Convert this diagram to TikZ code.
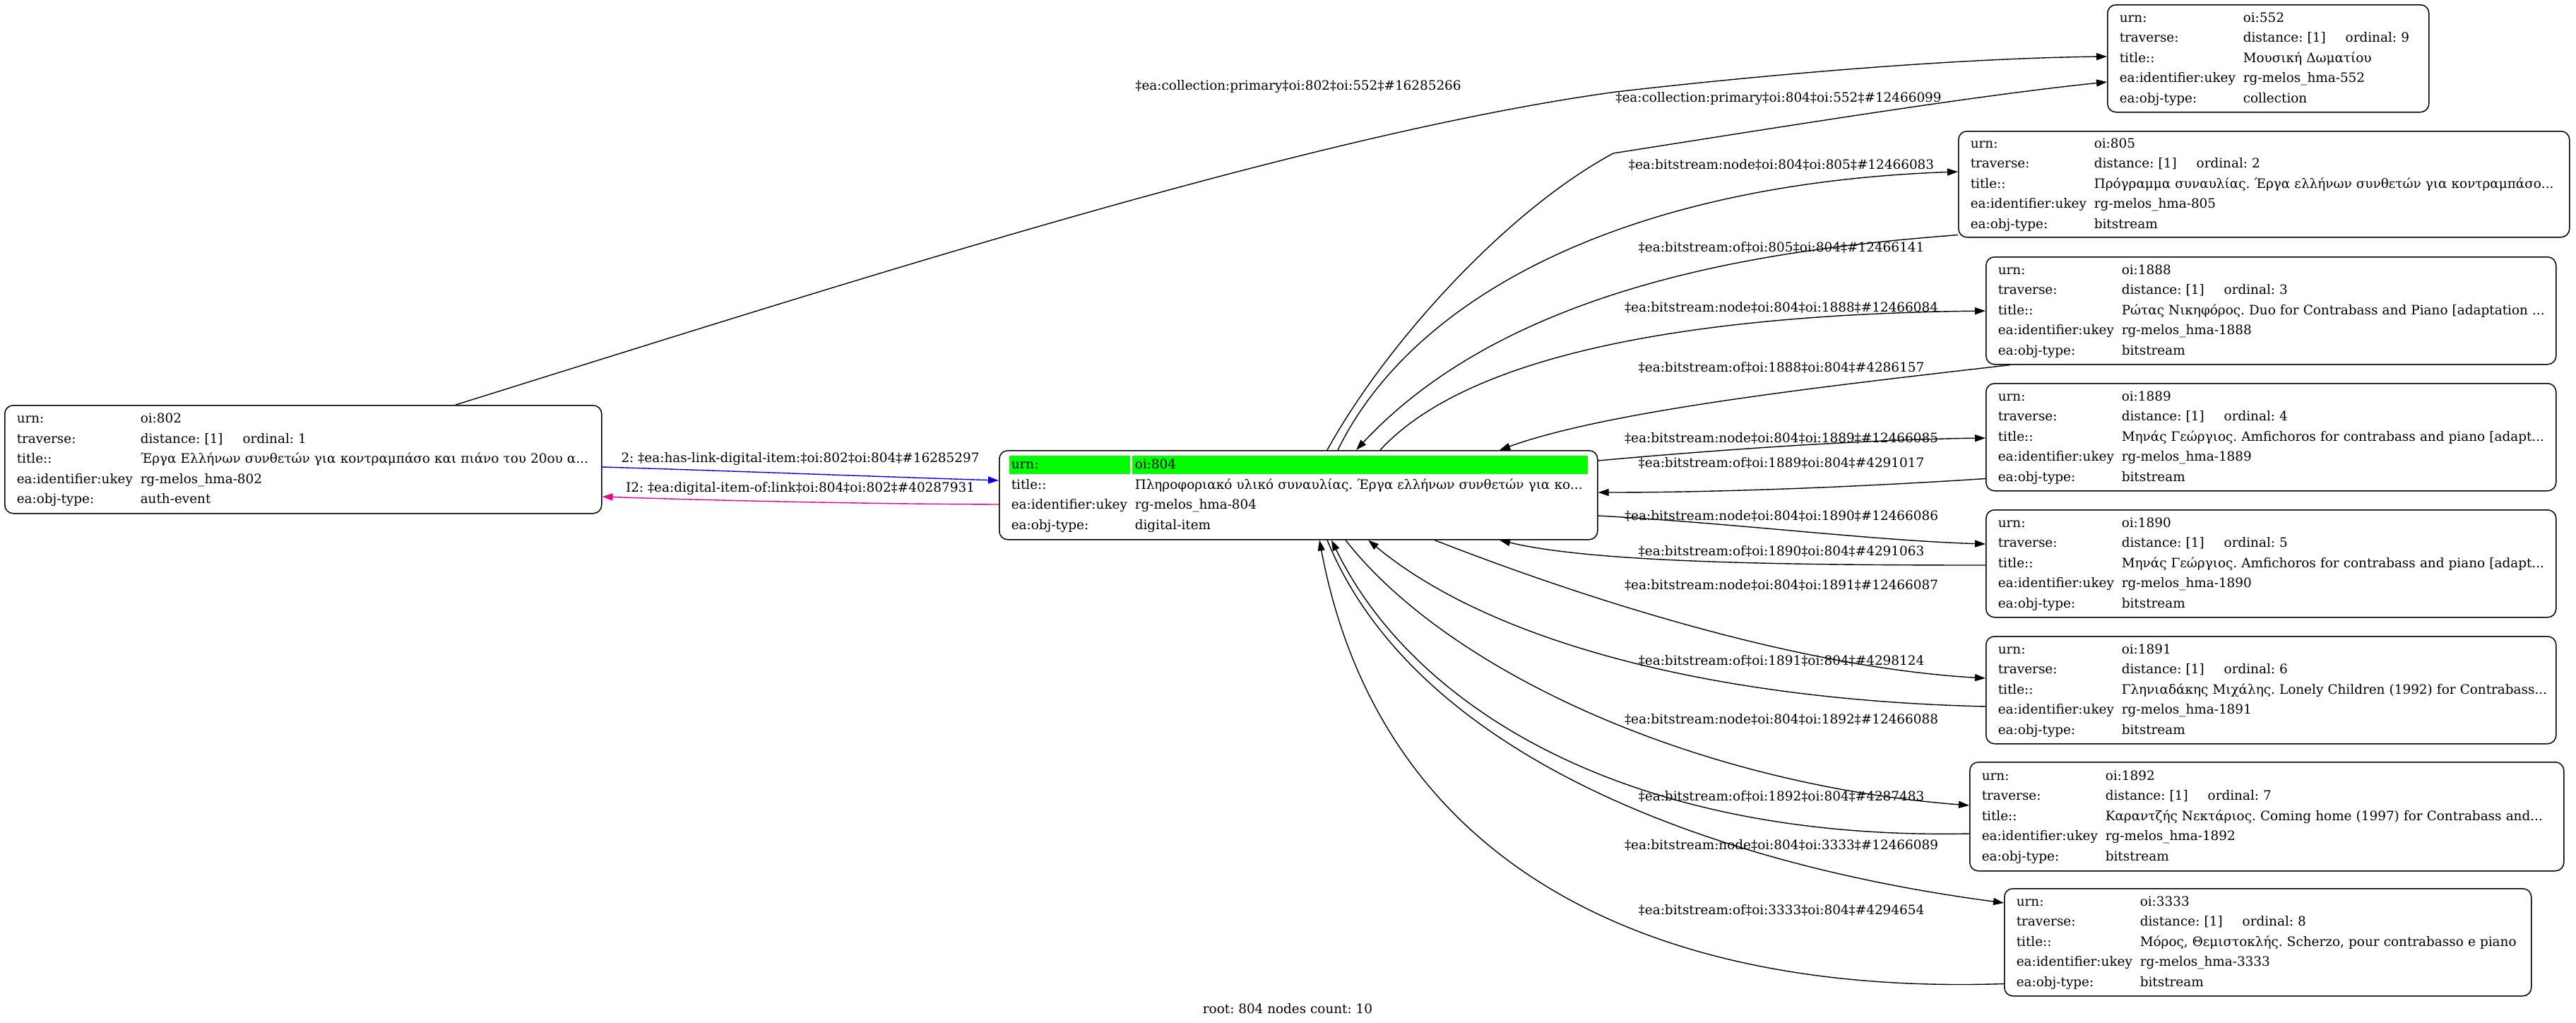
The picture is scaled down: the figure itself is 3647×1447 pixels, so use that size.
\documentclass[tikz,border=0pt]{standalone}
\usepackage{fontspec}
\setmainfont{DejaVu Serif}
\usetikzlibrary{arrows.meta,calc}
\tikzset{
 rec/.style={draw=black, line width=0.75pt, rounded corners=6pt, anchor=north west, inner xsep=8.5pt, inner ysep=0pt, align=left, font=\fontsize{9.2}{14.25}\selectfont\frenchspacing},
 elabel/.style={font=\fontsize{9.2}{11}\selectfont\frenchspacing, inner sep=0pt},
 conn/.style={line width=0.7pt, -{Triangle[length=7.5pt,width=5pt]}},
}
\newcommand\recbody[5]{\begin{tabular}{@{}p{87.5pt}@{}l@{}}urn: & #1\\ traverse: & distance: [1]\hspace{14pt}ordinal: #2\\ title:: & #3\\ ea:identifier:ukey & #4\\ ea:obj-type: & #5\end{tabular}}
\begin{document}
\begin{tikzpicture}[x=0.5pt,y=-0.5pt]
\useasboundingbox (0,0) rectangle (3647,1447);
% green header of root node
\fill[green] (1429,645) rectangle (1599.5,671);
\fill[green] (1602.5,645) rectangle (2248,671);
% nodes
\node[rec, text width=210.5pt, minimum height=76pt] (n552) at (2983,6) {\recbody{oi:552}{9}{Μουσική Δωματίου}{rg-melos\_hma-552}{collection}};
\node[rec, text width=415.5pt, minimum height=75pt] (n805) at (2772,185) {\recbody{oi:805}{2}{Πρόγραμμα συναυλίας. Έργα ελλήνων συνθετών για κοντραμπάσο...}{rg-melos\_hma-805}{bitstream}};
\node[rec, text width=386.5pt, minimum height=76pt] (n1888) at (2811,363) {\recbody{oi:1888}{3}{Ρώτας Νικηφόρος. Duo for Contrabass and Piano [adaptation ...}{rg-melos\_hma-1888}{bitstream}};
\node[rec, text width=386.5pt, minimum height=76pt] (n1889) at (2811,542) {\recbody{oi:1889}{4}{Μηνάς Γεώργιος. Amfichoros for contrabass and piano [adapt...}{rg-melos\_hma-1889}{bitstream}};
\node[rec, text width=386.5pt, minimum height=76pt] (n1890) at (2811,721) {\recbody{oi:1890}{5}{Μηνάς Γεώργιος. Amfichoros for contrabass and piano [adapt...}{rg-melos\_hma-1890}{bitstream}};
\node[rec, text width=386.5pt, minimum height=76pt] (n1891) at (2811,900) {\recbody{oi:1891}{6}{Γληνιαδάκης Μιχάλης. Lonely Children (1992) for Contrabass...}{rg-melos\_hma-1891}{bitstream}};
\node[rec, text width=403.5pt, minimum height=77pt] (n1892) at (2788,1078) {\recbody{oi:1892}{7}{Καραντζής Νεκτάριος. Coming home (1997) for Contrabass and...}{rg-melos\_hma-1892}{bitstream}};
\node[rec, text width=356pt, minimum height=76pt] (n3333) at (2837,1257) {\recbody{oi:3333}{8}{Μόρος, Θεμιστοκλής. Scherzo, pour contrabasso e piano}{rg-melos\_hma-3333}{bitstream}};
\node[rec, text width=405.5pt, minimum height=76.5pt] (n802) at (6,573) {\recbody{oi:802}{1}{Έργα Ελλήνων συνθετών για κοντραμπάσο και πιάνο του 20ου α...}{rg-melos\_hma-802}{auth-event}};
\node[rec, text width=406.5pt, minimum height=63pt] (n804) at (1414,637) {\begin{tabular}{@{}p{87.5pt}@{}l@{}}urn: & oi:804\\ title:: & Πληροφοριακό υλικό συναυλίας. Έργα ελλήνων συνθετών για κο...\\ ea:identifier:ukey & rg-melos\_hma-804\\ ea:obj-type: & digital-item\end{tabular}};
% connectors
\draw[conn] ($(n802.north west)+(639,0)$) .. controls (1200,400) and (1850,190) .. (2288,130) .. controls (2550,100) and (2800,82) .. ($(n552.north west)+(0,74)$);
\draw[conn] ($(n804.north west)+(465,0)$) .. controls (1960,490) and (2130,300) .. (2284,217) .. controls (2550,175) and (2800,135) .. ($(n552.north west)+(0,110)$);
\draw[conn] ($(n804.north west)+(480,0)$) .. controls (2000,420) and (2300,260) .. ($(n805.north west)+(0,58)$);
\draw[conn] ($(n805.south west)+(0,-4)$) .. controls (2550,350) and (2150,390) .. ($(n804.north west)+(506,0)$);
\draw[conn] ($(n804.north west)+(540,0)$) .. controls (2080,500) and (2400,445) .. ($(n1888.north west)+(0,77)$);
\draw[conn] ($(n1888.south west)+(35,0)$) .. controls (2600,545) and (2280,580) .. ($(n804.north west)+(709,0)$);
\draw[conn] ($(n804.north east)+(0,15)$) .. controls (2450,635) and (2650,622) .. ($(n1889.north west)+(0,78)$);
\draw[conn] ($(n1889.south west)+(0,-18)$) .. controls (2650,688) and (2450,697) .. ($(n804.north east)+(0,60)$);
\draw[conn] ($(n804.north east)+(0,93)$) .. controls (2450,740) and (2650,765) .. ($(n1890.north west)+(0,49)$);
\draw[conn] ($(n1890.north west)+(0,79)$) .. controls (2500,800) and (2250,795) .. ($(n804.south west)+(709,0)$);
\draw[conn] ($(n804.south west)+(617,0)$) .. controls (2250,850) and (2550,945) .. ($(n1891.north west)+(0,60)$);
\draw[conn] ($(n1891.north west)+(0,100)$) .. controls (2400,990) and (2100,900) .. ($(n804.south west)+(523,0)$);
\draw[conn] ($(n804.south west)+(491,0)$) .. controls (2050,950) and (2400,1110) .. ($(n1892.north west)+(0,62)$);
\draw[conn] ($(n1892.north west)+(0,102)$) .. controls (2300,1190) and (2000,1000) .. ($(n804.south west)+(471,0)$);
\draw[conn] ($(n804.south west)+(465,0)$) .. controls (2000,1060) and (2400,1220) .. ($(n3333.north west)+(0,21)$);
\draw[conn] ($(n3333.south west)+(0,-18)$) .. controls (2300,1410) and (1950,1200) .. ($(n804.south west)+(454,0)$);
\draw[conn, blue] ($(n802.north east)+(0,88)$) .. controls (1050,667) and (1250,675) .. ($(n804.north west)+(0,43)$);
\draw[conn, magenta] ($(n804.north west)+(0,77)$) .. controls (1200,713) and (1000,708) .. ($(n802.north east)+(0,130)$);
% labels
\node[elabel] (l1) at (1838,123) {‡ea:collection:primary‡oi:802‡oi:552‡\#16285266};
\node[elabel] (l2) at (2518,140) {‡ea:collection:primary‡oi:804‡oi:552‡\#12466099};
\node[elabel] (l3) at (2522,233) {‡ea:bitstream:node‡oi:804‡oi:805‡\#12466083};
\node[elabel] (l4) at (2522,350) {‡ea:bitstream:of‡oi:805‡oi:804‡\#12466141};
\node[elabel] (l5) at (2522,435) {‡ea:bitstream:node‡oi:804‡oi:1888‡\#12466084};
\node[elabel] (l6) at (2522,520) {‡ea:bitstream:of‡oi:1888‡oi:804‡\#4286157};
\node[elabel] (l7) at (2522,620) {‡ea:bitstream:node‡oi:804‡oi:1889‡\#12466085};
\node[elabel] (l8) at (2522,655) {‡ea:bitstream:of‡oi:1889‡oi:804‡\#4291017};
\node[elabel] (l9) at (2522,730) {‡ea:bitstream:node‡oi:804‡oi:1890‡\#12466086};
\node[elabel] (l10) at (2522,780) {‡ea:bitstream:of‡oi:1890‡oi:804‡\#4291063};
\node[elabel] (l11) at (2522,828) {‡ea:bitstream:node‡oi:804‡oi:1891‡\#12466087};
\node[elabel] (l12) at (2522,935) {‡ea:bitstream:of‡oi:1891‡oi:804‡\#4298124};
\node[elabel] (l13) at (2522,1018) {‡ea:bitstream:node‡oi:804‡oi:1892‡\#12466088};
\node[elabel] (l14) at (2522,1127) {‡ea:bitstream:of‡oi:1892‡oi:804‡\#4287483};
\node[elabel] (l15) at (2522,1196) {‡ea:bitstream:node‡oi:804‡oi:3333‡\#12466089};
\node[elabel] (l16) at (2522,1288) {‡ea:bitstream:of‡oi:3333‡oi:804‡\#4294654};
\node[elabel] (l17) at (1133,650) {2: ‡ea:has-link-digital-item:‡oi:802‡oi:804‡\#16285297};
\node[elabel] (l18) at (1133,692) {I2: ‡ea:digital-item-of:link‡oi:804‡oi:802‡\#40287931};
\node[elabel] (cap) at (1823,1428) {root: 804 nodes count: 10};
\end{tikzpicture}
\end{document}
